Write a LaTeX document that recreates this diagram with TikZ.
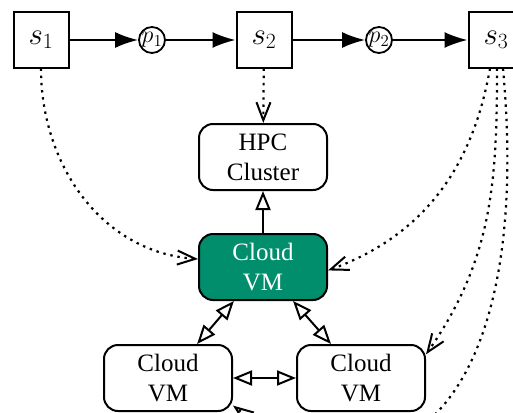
\documentclass[tikz,border=0pt]{standalone}
\usepackage{fix-cm}
\usepackage{fontspec}
\setmainfont{Liberation Serif}
\usetikzlibrary{arrows.meta}
\definecolor{vmgreen}{RGB}{0,142,108}
\begin{document}
\begin{tikzpicture}[x=1pt,y=-1pt,
  sbox/.style={draw, line width=2pt, minimum size=55pt, inner sep=0pt, font=\fontsize{31}{31}\selectfont},
  pcirc/.style={draw, circle, line width=1.8pt, inner sep=0pt, minimum size=26pt, font=\fontsize{24}{24}\selectfont},
  vmbox/.style={draw, line width=2pt, rounded corners=14pt, minimum width=128pt, minimum height=66pt, align=center, inner sep=0pt, font=\fontsize{25}{30}\selectfont},
  flow/.style={line width=2pt, -{Latex[length=23pt,width=16pt]}},
  dep/.style={line width=2.2pt, dash pattern=on 2.4pt off 4.8pt, -{Straight Barb[length=18pt,width=14pt,line width=2pt]}},
  link/.style={line width=2pt, {Triangle[open,length=19pt,width=15pt,line width=2pt]}-{Triangle[open,length=19pt,width=15pt,line width=2pt]}},
  up/.style={line width=2pt, -{Triangle[open,length=19pt,width=15pt,line width=2pt]}},
]
\useasboundingbox (0,0) rectangle (513,412);
\clip (0,0) rectangle (513,412);

\node[sbox] (s1) at (41,40) {$s_1$};
\node[pcirc] (p1) at (152,40) {$p_1$};
\node[sbox] (s2) at (264,40) {$s_2$};
\node[pcirc] (p2) at (379,40) {$p_2$};
\node[sbox] (s3) at (496,40) {$s_3$};

\node[vmbox] (hpc) at (263,157) {HPC\\Cluster};
\node[vmbox, fill=vmgreen, text=white] (vm) at (263,267) {Cloud\\VM};
\node[vmbox] (bl) at (168,378) {Cloud\\VM};
\node[vmbox] (br) at (361,378) {Cloud\\VM};

\draw[flow] (s1) -- (p1);
\draw[flow] (p1) -- (s2);
\draw[flow] (s2) -- (p2);
\draw[flow] (p2) -- (s3);

\draw[dep] (s2) -- (hpc);
\draw[dep] (s1.south) to[out=-90, in=176] (vm.173);
\draw[dep] ([xshift=-6pt]s3.south) to[out=-100, in=20] (vm.-3);
\draw[dep] ([xshift=1pt]s3.south) to[out=-90, in=55] (br.20);
\draw[dep] ([xshift=7pt]s3.south) .. controls (535,420) and (385,520) .. (bl.-23);

\draw[up] (vm) -- (hpc);
\draw[link] (vm) -- (bl);
\draw[link] (vm) -- (br);
\draw[link] (bl) -- (br);
\end{tikzpicture}
\end{document}
